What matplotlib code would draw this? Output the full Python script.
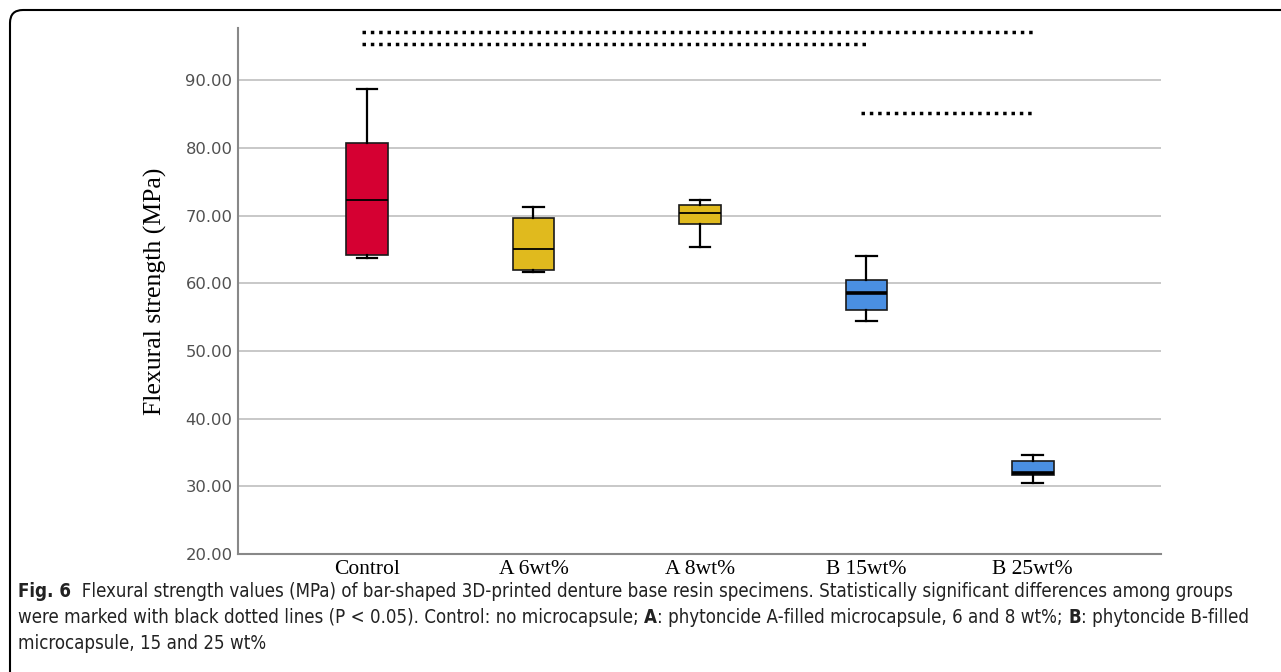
import matplotlib
matplotlib.use('Agg')
import matplotlib.pyplot as plt
from matplotlib.patches import FancyBboxPatch

# box statistics (MPa)
groups = ['Control', 'A 6wt%', 'A 8wt%', 'B 15wt%', 'B 25wt%']
whislo = [63.7, 61.7, 65.3, 54.4, 30.5]
q1 = [64.1, 62.0, 68.8, 56.1, 31.7]
med = [72.3, 65.1, 70.4, 58.5, 32.0]
q3 = [80.7, 69.6, 71.5, 60.5, 33.8]
whishi = [88.7, 71.2, 72.3, 64.0, 34.6]
colors = ['#D50032', '#E0BA1E', '#E0BA1E', '#4A8FE2', '#4A8FE2']
median_lw = [1.3, 1.3, 1.3, 2.6, 2.6]

# significance bars: (from group, to group, height)
sig_pairs = [(0, 4, 97.1), (0, 3, 95.4), (3, 4, 85.2)]

yticks = [20, 30, 40, 50, 60, 70, 80, 90]

fig = plt.figure(figsize=(12.81, 6.72), dpi=100)
ax = fig.add_axes([0.1858, 0.1756, 0.7205, 0.7827])

stats = []
for i, g in enumerate(groups):
    stats.append(dict(label=g, whislo=whislo[i], q1=q1[i], med=med[i],
                      q3=q3[i], whishi=whishi[i], fliers=[]))

for i, s in enumerate(stats):
    ax.bxp([s], positions=[i], widths=0.25, patch_artist=True,
           showfliers=False, capwidths=0.125,
           boxprops=dict(facecolor=colors[i], edgecolor='#1a1a1a', linewidth=1.2),
           medianprops=dict(color='black', linewidth=median_lw[i]),
           whiskerprops=dict(color='black', linewidth=1.6),
           capprops=dict(color='black', linewidth=1.6), zorder=3)

for a, b, h in sig_pairs:
    ax.plot([a - 0.03, b + 0.02], [h, h], color='black', linewidth=2.5,
            linestyle=(0, (1, 1.4)), dash_capstyle='butt', clip_on=False, zorder=4)

ax.set_xlim(-0.775, 4.77)
ax.set_ylim(20, 97.7)
ax.set_yticks(yticks)
ax.set_yticklabels(['%.2f' % v for v in yticks], color='#505050', fontsize=11.8,
                   family='DejaVu Sans')
ax.set_xticks(range(len(groups)))
ax.set_xticklabels(groups, family='Liberation Serif', fontsize=15.5)
ax.tick_params(axis='both', length=0, pad=4)
ax.tick_params(axis='x', pad=4)
ax.yaxis.grid(True, color='#c8c8c8', linewidth=1.4)
ax.set_axisbelow(True)
for sp in ['top', 'right']:
    ax.spines[sp].set_visible(False)
for sp in ['left', 'bottom']:
    ax.spines[sp].set_color('#888888')
    ax.spines[sp].set_linewidth(1.5)
ax.set_ylabel('Flexural strength (MPa)', family='Liberation Serif', fontsize=18.5,
              labelpad=13)

# frame round the figure (top and left visible)
frame = FancyBboxPatch((0.1, -1.0), 13.5, 7.62,
                       boxstyle='round,pad=0,rounding_size=0.13',
                       transform=fig.dpi_scale_trans, facecolor='none',
                       edgecolor='black', linewidth=1.5, clip_on=False)
fig.patches.append(frame)

# caption
cap_font = dict(family='DejaVu Sans', fontstretch='condensed', fontsize=13.4,
                color='#222222')
lines = [
    [('Fig. 6', True), ('  Flexural strength values (MPa) of bar-shaped 3D-printed denture base resin specimens. '
                        'Statistically significant differences among groups', False)],
    [('were marked with black dotted lines (P < 0.05). Control: no microcapsule; ', False),
     ('A', True), (': phytoncide A-filled microcapsule, 6 and 8 wt%; ', False),
     ('B', True), (': phytoncide B-filled', False)],
    [('microcapsule, 15 and 25 wt%', False)],
]
ys = [1 - 597 / 672, 1 - 623 / 672, 1 - 649 / 672]
for segs, y in zip(lines, ys):
    prev = None
    for txt, bold in segs:
        w = 'bold' if bold else 'normal'
        if prev is None:
            prev = fig.text(18 / 1281, y, txt, fontweight=w, va='baseline', **cap_font)
        else:
            prev = ax.annotate(txt, xy=(1, 0), xycoords=prev, va='bottom',
                               fontweight=w, annotation_clip=False, **cap_font)

fig.savefig('out.png', dpi=100)
